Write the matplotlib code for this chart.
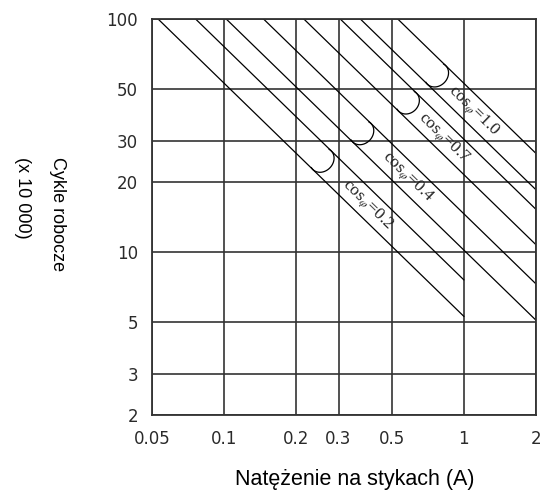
import matplotlib
matplotlib.use('Agg')
import matplotlib.pyplot as plt
from matplotlib.ticker import NullLocator
import numpy as np

# ---- data ----
x_ticks = [0.05, 0.1, 0.2, 0.3, 0.5, 1, 2]
x_tick_labels = ['0.05', '0.1', '0.2', '0.3', '0.5', '1', '2']
y_ticks = [2, 3, 5, 10, 20, 30, 50, 100]
y_tick_labels = ['2', '3', '5', '10', '20', '30', '50', '100']

power_factors = ['0.2', '0.4', '0.7', '1.0']
# product current(A) x cycles(x10 000) for the lower / upper line of each band
band_low = [5.3, 10.2, 21.5, 37.0]
band_high = [7.6, 14.6, 30.5, 53.0]
band_max_current = [1, 2, 2, 2]
brace_current = [0.256, 0.375, 0.582, 0.769]
label_current = [0.397, 0.582, 0.825, 1.102]

plt.rcParams['mathtext.fontset'] = 'stix'

W, H = 544, 503
fig = plt.figure(figsize=(W / 100, H / 100), dpi=100)
ax = fig.add_axes([152 / W, 1 - 415 / H, (536 - 152) / W, (415 - 19) / H])
ax.set_xscale('log')
ax.set_yscale('log')
ax.set_xlim(0.05, 2)
ax.set_ylim(2, 100)
ax.xaxis.set_minor_locator(NullLocator())
ax.yaxis.set_minor_locator(NullLocator())
ax.set_xticks(x_ticks)
ax.set_xticklabels(x_tick_labels)
ax.set_yticks(y_ticks)
ax.set_yticklabels(y_tick_labels)
ax.tick_params(length=0, labelsize=12, colors='#2a2a2a')
ax.tick_params(axis='x', pad=11)
ax.tick_params(axis='y', pad=10)
ax.grid(True, color='#333333', lw=1.2)
ax.set_axisbelow(True)
for s in ax.spines.values():
    s.set_color('#333333')
    s.set_linewidth(1.3)

ymax = 100
for c_lo, c_hi, xm in zip(band_low, band_high, band_max_current):
    for c in (c_lo, c_hi):
        ax.plot([c / ymax, xm], [ymax, c / xm], color='black', lw=0.9)

fig.canvas.draw()
T = ax.transData
inv = T.inverted()

def disp(x, y):
    return np.array(T.transform((x, y)))

for pf, c_lo, c_hi, xb, xl in zip(power_factors, band_low, band_high,
                                   brace_current, label_current):
    cm = np.sqrt(c_lo * c_hi)
    p1 = disp(0.2, cm / 0.2)
    p2 = disp(1.0, cm / 1.0)
    d = (p2 - p1) / np.linalg.norm(p2 - p1)
    n = np.array([-d[1], d[0]])
    if n[1] < 0:
        n = -n
    M = disp(xb, cm / xb)
    P_lo = disp(1.0, c_lo)
    P_hi = disp(1.0, c_hi)
    F_lo = M - np.dot(M - P_lo, n) * n
    F_hi = M - np.dot(M - P_hi, n) * n
    C = (F_lo + F_hi) / 2
    r = np.linalg.norm(F_hi - F_lo) / 2
    t = np.linspace(-0.07, 1.07, 80)
    bulge = 11.0
    pts = C[None, :] + (-r * np.cos(np.pi * t))[:, None] * n[None, :] \
        + (bulge * np.sin(np.pi * t))[:, None] * d[None, :]
    data_pts = inv.transform(pts)
    ax.plot(data_pts[:, 0], data_pts[:, 1], color='black', lw=0.9)

    angle = np.degrees(np.arctan2(d[1], d[0]))
    ax.text(xl, cm / xl, r'cos$_{\varphi}$=' + pf, rotation=angle,
            rotation_mode='anchor', ha='center', va='center',
            fontsize=12.5, family='Liberation Serif', color='#222222')

fig.text(57 / W, 1 - 157 / H, 'Cykle robocze', rotation=-90, ha='center',
         va='top', fontsize=13, family='Liberation Sans')
fig.text(22 / W, 1 - 157 / H, '(x 10 000)', rotation=-90, ha='center',
         va='top', fontsize=13, family='Liberation Sans')
fig.text(355 / W, 1 - 480 / H, 'Natężenie na stykach (A)', ha='center',
         va='center', fontsize=15.5, family='Liberation Sans')

fig.savefig('out.png', dpi=100)
